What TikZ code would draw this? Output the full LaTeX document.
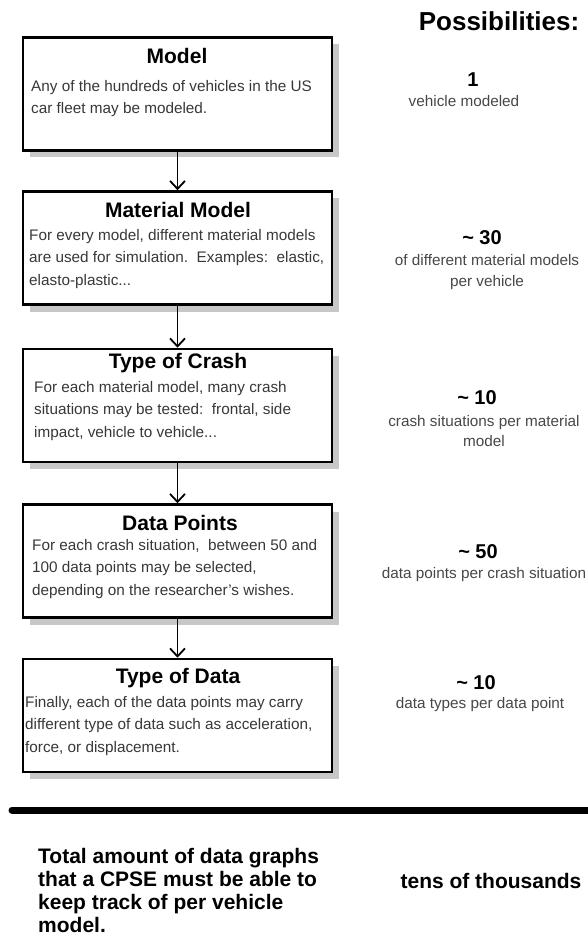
\documentclass[tikz,border=0pt]{standalone}
\usepackage{fontspec}
\setmainfont{Liberation Sans}
\usetikzlibrary{arrows.meta,shadows}

\tikzset{
  stage/.style={draw=black, line width=2.6pt, fill=white,
    minimum width=309pt, minimum height=113pt, inner sep=0pt,
    drop shadow={shadow xshift=7pt, shadow yshift=-7pt, fill=black!22, opacity=1}},
  stagetitle/.style={font=\fontsize{21}{23}\selectfont\bfseries, inner sep=0pt},
  stagebody/.style={font=\fontsize{15.3}{22.5}\selectfont, text=black!78,
    align=left, anchor=north west, inner sep=0pt},
  heading/.style={font=\fontsize{26}{28}\selectfont\bfseries, inner sep=0pt},
  countnum/.style={font=\fontsize{20}{22}\selectfont\bfseries, inner sep=0pt},
  countnote/.style={font=\fontsize{15.3}{20.5}\selectfont, text=black!72,
    align=center, inner sep=0pt},
  flow/.style={line width=1.8pt, -{Straight Barb[length=8pt,width=15pt]}},
  summary/.style={font=\fontsize{21}{23}\selectfont\bfseries, inner sep=0pt}
}

\begin{document}
\begin{tikzpicture}[x=1pt, y=-1pt]
\useasboundingbox (0,0) rectangle (587,949);

% header of the right-hand column
\node[heading] (poss) at (499,21) {Possibilities:};

% the five stages
\node[stage] (b1) at (177.5,94)  {};
\node[stage] (b2) at (177.5,248) {};
\node[stage] (b3) at (177.5,405.5) {};
\node[stage] (b4) at (177.5,561) {};
\node[stage] (b5) at (177.5,715.5) {};

% connectors
\draw[flow] (b1.south) -- (b2.north);
\draw[flow] (b2.south) -- (b3.north);
\draw[flow] (b3.south) -- (b4.north);
\draw[flow] (b4.south) -- (b5.north);

% stage titles
\node[stagetitle] (t1) at (177,56)  {Model};
\node[stagetitle] (t2) at (178,210) {Material Model};
\node[stagetitle] (t3) at (178,363) {Type of Crash};
\node[stagetitle] (t4) at (180,523) {Data Points};
\node[stagetitle] (t5) at (178,678) {Type of Data};

% stage descriptions
\node[stagebody] (d1) at (31,80) {Any of the hundreds of vehicles in the US\\car fleet may be modeled.};
\node[stagebody] (d2) at (29,229) {For every model,\ different material models\\are used for simulation.\ \ Examples:\ \ elastic,\\elasto-plastic...};
\node[stagebody] (d3) at (34,381) {For each material model, many crash\\situations may be tested:\ \ frontal, side\\impact, vehicle to vehicle...};
\node[stagebody] (d4) at (32,539) {For each crash situation,\ \ between 50 and\\100 data points may be selected,\\depending on the researcher's wishes.};
\node[stagebody] (d5) at (25,696) {Finally, each of the data points may carry\\different type of data such as acceleration,\\force, or displacement.};

% counts per stage
\node[countnum] (n1) at (473,80) {1};
\node[countnote] (c1) at (464,101) {vehicle modeled};
\node[countnum] (n2) at (482,238) {\textasciitilde\ 30};
\node[countnote] (c2) at (487,272) {of different material models\\per vehicle};
\node[countnum] (n3) at (477,398) {\textasciitilde\ 10};
\node[countnote] (c3) at (484,431) {crash situations per material\\model};
\node[countnum] (n4) at (478,552) {\textasciitilde\ 50};
\node[countnote] (c4) at (484,575) {data points per crash situation};
\node[countnum] (n5) at (476,683) {\textasciitilde\ 10};
\node[countnote] (c5) at (480,705) {data types per data point};

% dividing rule
\coordinate (rl) at (12,810);
\coordinate (rr) at (592,810);
\draw[line width=7pt, line cap=round] (rl) -- (rr);

% totals
\node[summary, align=left, anchor=north west] (total) at (38,848)
  {Total amount of data graphs\\that a CPSE must be able to\\keep track of per vehicle\\model.};
\node[summary] (tens) at (491,881) {tens of thousands};
\end{tikzpicture}
\end{document}
